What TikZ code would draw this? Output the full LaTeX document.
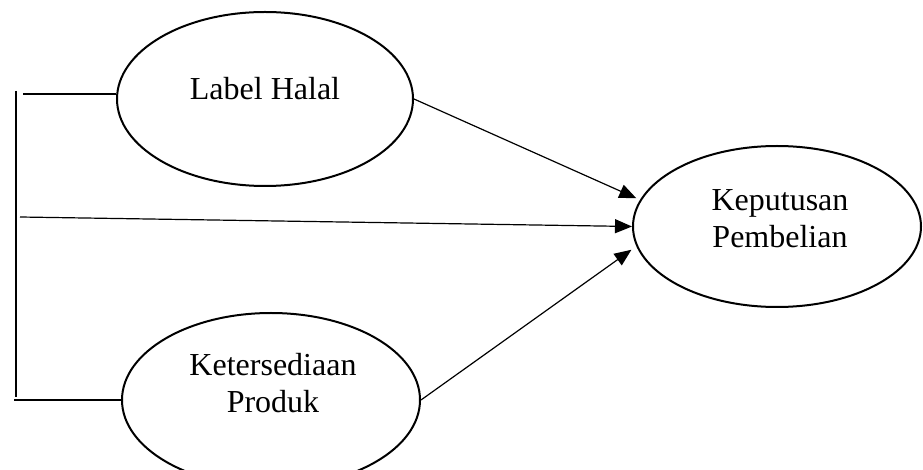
\documentclass[tikz,border=0pt]{standalone}
\usepackage{fontspec}
\setmainfont{Liberation Serif}
\usetikzlibrary{shapes.geometric,arrows.meta}
\begin{document}
\begin{tikzpicture}[x=0.5pt,y=-0.5pt,
  oval/.style={ellipse,draw,line width=1pt,inner sep=0pt},
  txt/.style={align=center,font=\fontsize{16}{18.5}\selectfont,inner sep=0pt},
  conn/.style={line width=0.6pt},
  arr/.style={conn,-{Triangle[length=8.5pt,width=7pt]}}]
\useasboundingbox (0,0) rectangle (923,470);
\clip (0,0) rectangle (923,470);
% ellipses
\node[oval,minimum width=148pt,minimum height=87pt] (lh) at (265,99) {};
\node[oval,minimum width=149pt,minimum height=87pt] (kt) at (271,400) {};
\node[oval,minimum width=144pt,minimum height=80.5pt] (kp) at (777,226.5) {};
% texts
\node[txt] (lht) at (265,89) {Label Halal};
\node[txt] (ktt) at (273,383) {Ketersediaan\\Produk};
\node[txt] (kpt) at (780,219) {Keputusan\\Pembelian};
% bracket
\coordinate (vt) at (16,91);
\coordinate (vb) at (16,397);
\coordinate (ht) at (23,94);
\coordinate (hb) at (14,400);
\coordinate (mid) at (20,217);
\draw[conn] (vt) -- (vb);
\draw[conn] (ht) -- (ht -| lh.west);
\draw[conn] (hb) -- (kt.west);
% arrows
\draw[arr] (mid) -- (kp.west);
\draw[arr,shorten >=2pt] (lh.east) -- (kp.169);
\draw[arr,shorten >=3pt] (kt.east) -- (kp.188);
\end{tikzpicture}
\end{document}
